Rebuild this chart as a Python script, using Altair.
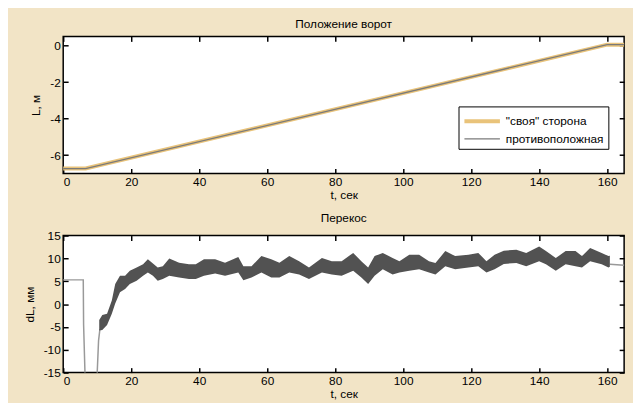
import altair as alt
import pandas as pd

BG = "#f2e4c6"
YELLOW = "#e9c37a"
GRAY = "#999999"
DARK = "#525252"
FONT = "Liberation Sans"

# ---- top panel: gate position ----
pos_t = [0, 6.6, 160.0, 165]
pos_L = [-6.73, -6.73, 0.05, 0.05]
series = ['"своя" сторона', 'противоположная']

# ---- bottom panel: skew ----
line_t = [0, 5.9, 6.0, 6.4, 10.0, 10.4, 10.8, 160.8, 165]
line_v = [5.3, 5.3, -4.5, -15, -15, -8, -5.5, 8.7, 8.5]
line_seg = [0, 0, 0, 0, 1, 1, 1, 2, 2]

band_t = [10.6, 11.5, 12.9, 14.3, 15.3, 16.7, 18.2, 19.6, 21.6, 23.5, 24.9, 26.4,
          27.8, 29.3, 31.2, 34.1, 37.0, 39.0, 41.4, 44.7, 47.6, 51.5, 53.0, 55.4,
          58.3, 61.2, 63.6, 66.5, 69.4, 72.3, 76.1, 79.0, 81.9, 85.3, 87.7, 89.7,
          91.6, 94.0, 96.9, 98.9, 101.8, 104.7, 107.6, 109.5, 112.4, 115.3, 119.2,
          122.1, 124.5, 126.9, 129.6, 133.3, 136.2, 140.0, 142.0, 144.9, 147.8,
          150.7, 152.6, 155.0, 158.4, 160.4, 160.8]
band_lo = [-5.8, -5.7, -4.6, -2.1, 0.1, 2.6, 3.3, 4.4, 5.1, 6.2, 6.9, 6.2,
           5.1, 5.5, 6.2, 5.8, 5.5, 5.5, 6.2, 6.7, 6.2, 6.9, 5.2, 5.8,
           6.9, 5.8, 5.8, 6.9, 6.5, 5.5, 6.9, 6.5, 6.2, 7.3, 5.8, 4.4,
           6.2, 7.6, 6.5, 6.9, 7.3, 7.6, 6.9, 6.5, 8.3, 7.6, 8.0,
           8.3, 6.9, 7.6, 8.8, 9.0, 8.3, 9.4, 8.7, 7.3, 8.7,
           8.3, 8.0, 9.4, 8.7, 8.0, 8.2]
band_hi = [-3.5, -2.4, -2.1, 0.8, 4.4, 6.2, 6.2, 7.3, 8.0, 8.7, 9.8, 8.9,
           8.0, 8.3, 10.0, 9.05, 8.7, 8.7, 9.8, 9.8, 9.05, 10.3, 8.3, 8.3,
           10.5, 9.8, 9.05, 10.5, 9.4, 8.0, 10.1, 9.4, 9.4, 11.2, 9.4, 8.0,
           10.5, 11.2, 10.1, 9.4, 10.8, 10.8, 9.4, 9.0, 11.6, 10.5, 10.8,
           11.2, 9.4, 10.8, 11.7, 11.9, 11.2, 12.6, 11.6, 10.1, 11.6,
           11.6, 10.5, 12.3, 11.2, 10.5, 10.6]

x_ticks = [0, 20, 40, 60, 80, 100, 120, 140, 160]
top_y_ticks = [0, -2, -4, -6]
bot_y_ticks = [15, 10, 5, 0, -5, -10, -15]

W, H_TOP, H_BOT = 569, 139, 139

pos_df = pd.DataFrame(
    [{"t": t, "L": L, "side": s} for s in series for t, L in zip(pos_t, pos_L)]
)
line_df = pd.DataFrame({"t": line_t, "v": line_v, "seg": line_seg})
band_df = pd.DataFrame({"t": band_t, "lo": band_lo, "hi": band_hi})

xscale = alt.Scale(domain=[0, 165], nice=False, zero=False)
LBL = "toString(datum.value)"


def ax_bottom():
    return alt.Axis(values=x_ticks, orient="bottom", title="t, сек", offset=-5,
                    tickSize=5, labelPadding=3, titlePadding=2, labelExpr=LBL)


def ax_top():
    return alt.Axis(values=x_ticks, orient="top", title=None, labels=False,
                    offset=-5, tickSize=5, minExtent=0, maxExtent=0)


def ax_left(vals, title):
    return alt.Axis(values=vals, orient="left", title=title, offset=-5,
                    tickSize=5, labelPadding=3, titlePadding=7, labelExpr=LBL)


def ax_right(vals):
    return alt.Axis(values=vals, orient="right", title=None, labels=False,
                    offset=-5, tickSize=5, minExtent=0, maxExtent=0)


top_yscale = alt.Scale(domain=[-7, 0.5], nice=False, zero=False)

top_lines = alt.Chart(pos_df).mark_line().encode(
    x=alt.X("t:Q", scale=xscale, axis=ax_bottom()),
    y=alt.Y("L:Q", scale=top_yscale, axis=ax_left(top_y_ticks, "L, м")),
    color=alt.Color("side:N", scale=alt.Scale(domain=series, range=[YELLOW, "#7a7a7a"]),
                    legend=alt.Legend(orient="none", legendX=401, legendY=71, title=None,
                                      fillColor="white", strokeColor="black", padding=4,
                                      symbolType="M-1,0L3,0", symbolSize=324,
                                      labelFontSize=12, labelFont=FONT, labelColor="black",
                                      rowPadding=0, cornerRadius=0, labelOffset=22)),
    strokeWidth=alt.StrokeWidth("side:N", scale=alt.Scale(domain=series, range=[4, 1.3]),
                                legend=alt.Legend(orient="none", legendX=401, legendY=71,
                                                  title=None)),
)

top_mirror = alt.Chart(pos_df).mark_line(opacity=0).encode(
    x=alt.X("t:Q", scale=xscale, axis=ax_top()),
    y=alt.Y("L:Q", scale=top_yscale, axis=ax_right(top_y_ticks)),
)

top = alt.layer(top_lines, top_mirror).resolve_axis(x="independent", y="independent").properties(
    width=W, height=H_TOP,
    title=alt.TitleParams("Положение ворот", fontSize=12, fontWeight="normal", font=FONT,
                          color="black", offset=5, anchor="middle"),
)

bot_yscale = alt.Scale(domain=[-15, 15], nice=False, zero=False)

bot_line = alt.Chart(line_df).mark_line(color=GRAY, strokeWidth=1.5).encode(
    x=alt.X("t:Q", scale=xscale, axis=ax_bottom()),
    y=alt.Y("v:Q", scale=bot_yscale, axis=ax_left(bot_y_ticks, "dL, мм")),
    detail="seg:N",
)

bot_band = alt.Chart(band_df).mark_area(color=DARK, opacity=1).encode(
    x=alt.X("t:Q", scale=xscale, axis=None),
    y=alt.Y("lo:Q", scale=bot_yscale, axis=None),
    y2="hi:Q",
)

bot_mirror = alt.Chart(line_df).mark_line(opacity=0).encode(
    x=alt.X("t:Q", scale=xscale, axis=ax_top()),
    y=alt.Y("v:Q", scale=bot_yscale, axis=ax_right(bot_y_ticks)),
    detail="seg:N",
)

bottom = alt.layer(bot_line, bot_band, bot_mirror).resolve_axis(
    x="independent", y="independent").properties(
    width=W, height=H_BOT,
    title=alt.TitleParams("Перекос", fontSize=12, fontWeight="normal", font=FONT,
                          color="black", offset=5, anchor="middle"),
)

chart = alt.vconcat(top, bottom, spacing=10).properties(
    background=BG,
    padding={"left": 14, "top": 6, "right": 0, "bottom": 0},
).configure_view(
    fill="white", stroke="black", strokeWidth=1.5,
).configure_axis(
    labelFont=FONT, labelFontSize=12, labelColor="black",
    titleFont=FONT, titleFontSize=12, titleFontWeight="normal", titleColor="black",
    tickColor="black", tickWidth=1.5, grid=False, domain=False, minExtent=0,
)

chart.save("out.html", embed_options={"renderer": "svg", "actions": False})
